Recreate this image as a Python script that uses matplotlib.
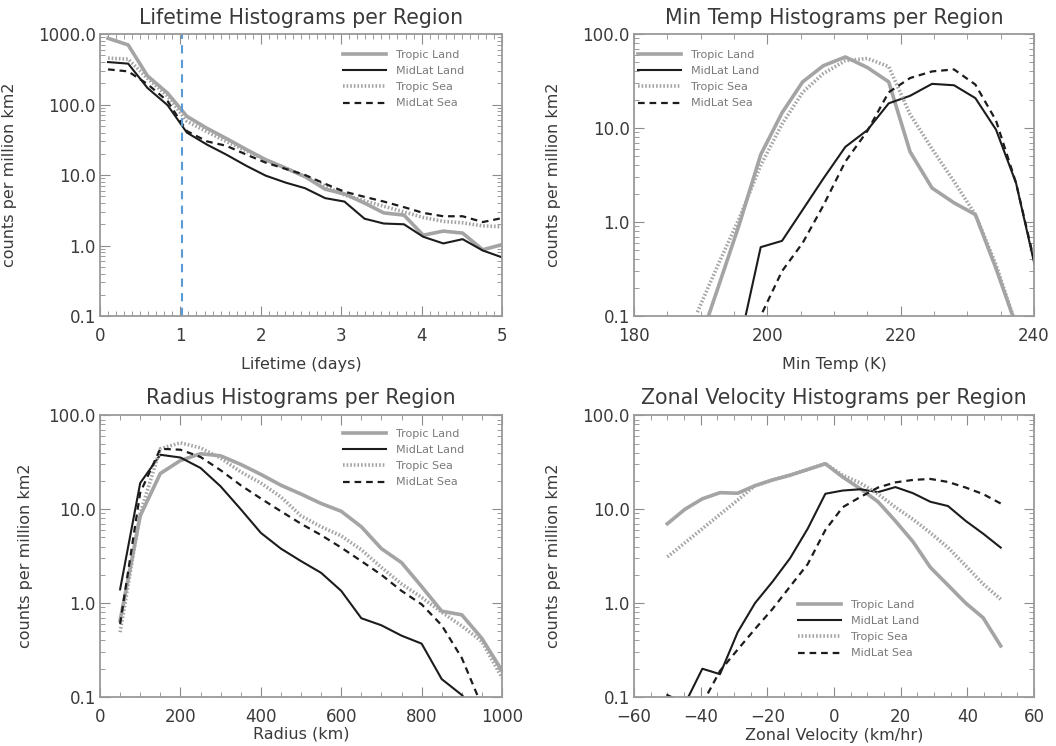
import numpy as np
import matplotlib
matplotlib.use("Agg")
import matplotlib.pyplot as plt
from matplotlib.ticker import MultipleLocator, LogLocator, FixedLocator, NullFormatter

# ---- data ----
NAMES = ["Tropic Land", "MidLat Land", "Tropic Sea", "MidLat Sea"]

# lifetime (days)
life_x = [0.1, 0.35, 0.59, 0.84, 1.08, 1.33, 1.57, 1.82, 2.06, 2.31, 2.55,
          2.8, 3.04, 3.29, 3.53, 3.78, 4.02, 4.27, 4.51, 4.76, 5.0]
life_tl = [870, 700, 255, 145, 68, 46, 33, 23, 16.5, 12.5, 9.5,
           6.3, 5.4, 4.0, 2.9, 2.7, 1.4, 1.6, 1.5, 0.87, 1.03]
life_ml = [400, 380, 172, 98, 40, 27, 19.5, 13.5, 9.8, 7.8, 6.5,
           4.7, 4.2, 2.4, 2.05, 2.0, 1.33, 1.07, 1.23, 0.85, 0.68]
life_ts = [455, 440, 235, 132, 58, 41, 30, 22, 16.5, 12.5, 9.5,
           7.0, 5.2, 4.3, 3.6, 3.0, 2.5, 2.2, 2.1, 1.9, 1.85]
life_ms = [315, 295, 195, 112, 42, 30, 26, 19.5, 15, 12.2, 10,
           7.5, 5.8, 4.9, 4.2, 3.5, 2.9, 2.6, 2.6, 2.15, 2.45]
LIFE_CUT = 1.02   # blue dashed marker

# min temperature (K)
temp_x = [189.5, 192.6, 195.8, 199.0, 202.2, 205.3, 208.4, 211.7, 215.0,
          218.2, 221.4, 224.7, 228.0, 231.2, 234.3, 237.3, 240.4]
temp_tl = [0.045, 0.2, 0.95, 5.2, 14.5, 31, 46, 57, 44,
           31, 5.6, 2.3, 1.6, 1.2, 0.32, 0.08, 0.02]
temp_ml = [np.nan, np.nan, 0.05, 0.54, 0.63, 1.35, 2.9, 6.3, 9.5,
           18.3, 22, 29.5, 28.5, 20.8, 9.6, 2.6, 0.28]
temp_ts = [0.11, 0.35, 1.1, 4.0, 11, 24, 38, 52, 55,
           45, 14, 6.0, 2.7, 1.2, 0.35, 0.08, 0.02]
temp_ms = [np.nan, np.nan, 0.03, 0.1, 0.3, 0.6, 1.5, 4.4, 9.3,
           24, 34, 40, 42, 29, 12, 2.6, 0.3]

# radius (km)
rad_x = [50, 100, 150, 200, 250, 300, 350, 400, 450, 500,
         550, 600, 650, 700, 750, 800, 850, 900, 950, 1000]
rad_tl = [0.65, 8.5, 24, 33, 39, 37, 30, 23.5, 18, 14.5,
          11.5, 9.5, 6.5, 3.8, 2.7, 1.5, 0.82, 0.75, 0.42, 0.19]
rad_ml = [1.4, 19, 38, 35.5, 27.5, 17.5, 10, 5.6, 3.8, 2.8,
          2.1, 1.35, 0.69, 0.58, 0.45, 0.37, 0.155, 0.105, 0.06, np.nan]
rad_ts = [0.49, 9, 44, 51, 45, 35, 25, 19, 13.5, 8.5,
          6.5, 5.2, 3.7, 2.4, 1.6, 1.15, 0.8, 0.57, 0.39, 0.16]
rad_ms = [0.6, 15, 44, 43, 36, 26, 18, 13, 9.5, 7.0,
          5.3, 3.9, 2.8, 2.0, 1.35, 0.97, 0.58, 0.26, 0.08, np.nan]

# zonal velocity (km/hr)
zon_x = [-50, -44.7, -39.5, -34.2, -28.9, -23.7, -18.4, -13.2, -7.9, -2.6,
         2.6, 7.9, 13.2, 18.4, 23.7, 28.9, 34.2, 39.5, 44.7, 50]
zon_tl = [7.0, 10, 12.9, 15, 14.8, 17.8, 20.5, 23, 26.5, 30.5,
          22, 16.5, 12, 7.5, 4.5, 2.4, 1.55, 1.0, 0.7, 0.35]
zon_ml = [0.105, 0.085, 0.2, 0.175, 0.49, 1.0, 1.7, 3.0, 6.2, 14.6,
          15.8, 16.3, 15.2, 17.2, 14.8, 12, 10.8, 7.5, 5.5, 3.9]
zon_ts = [3.1, 4.4, 6.2, 8.8, 12.5, 17.8, 20.5, 23, 26.5, 30.5,
          23, 19, 14.5, 10.5, 7.8, 5.6, 3.9, 2.5, 1.6, 1.1]
zon_ms = [np.nan, np.nan, 0.085, 0.19, 0.32, 0.53, 0.87, 1.5, 2.6, 6.0,
          10.5, 13.5, 17, 19.3, 20.5, 21, 19.5, 17, 14.5, 11.5]

GRAY = "#a4a4a4"
DARK = "#1c1c1c"
TXT = "#3a3a3a"
STYLES = [dict(color=GRAY, lw=2.6, ls="-"),
          dict(color=DARK, lw=1.5, ls="-"),
          dict(color=GRAY, lw=2.6, ls=(0, (0.45, 0.55))),
          dict(color=DARK, lw=1.6, ls=(0, (3, 2.2)))]

fig = plt.figure(figsize=(10.56, 7.46), dpi=100)
plt.rcParams["font.family"] = "DejaVu Sans"

def panel(rect, xs, ys, title, xlabel, xlim, ylim, minor, xticks,
          ylabs, ylab_x, xlab_y, title_y, leg_xy):
    ax = fig.add_axes(rect)
    for y, st in zip(ys, STYLES):
        ax.plot(xs, y, **st)
    ax.set_yscale("log")
    ax.set_xlim(*xlim)
    ax.xaxis.set_major_locator(FixedLocator(xticks))
    ax.xaxis.set_minor_locator(MultipleLocator(minor))
    ax.set_xticklabels([f"{t:g}".replace("-", "\u2212") for t in xticks])
    ax.yaxis.set_minor_locator(LogLocator(base=10, subs=np.arange(2, 10), numticks=20))
    ax.yaxis.set_minor_formatter(NullFormatter())
    ax.set_yticks(ylabs)
    ax.set_yticklabels([f"{v:.1f}" for v in ylabs])
    ax.set_ylim(*ylim)
    ax.tick_params(which="both", direction="in", top=True, right=True,
                   color="#8c8c8c", labelcolor=TXT, labelsize=12)
    ax.tick_params(axis="x", which="major", length=7, pad=8)
    ax.tick_params(axis="x", which="minor", length=3.5)
    ax.tick_params(axis="y", which="major", length=7, pad=3)
    ax.tick_params(axis="y", which="minor", length=3.5)
    for s in ax.spines.values():
        s.set_color("#9a9a9a"); s.set_linewidth(1.3)
    ax.set_title(title, y=title_y, pad=0, va="center", fontsize=14.8, color=TXT)
    ax.set_xlabel(xlabel, fontsize=11.5, color=TXT)
    ax.set_ylabel("counts per million km2", fontsize=11.5, color=TXT)
    ax.yaxis.set_label_coords(ylab_x, 0.5)
    ax.xaxis.set_label_coords(0.5, xlab_y)
    ax.legend(NAMES, loc="upper left", bbox_to_anchor=leg_xy, frameon=False,
              fontsize=8, labelcolor="#7a7a7a", borderpad=0, borderaxespad=0,
              handlelength=3.9, handletextpad=0.9, labelspacing=0.55)
    return ax

W1, W2 = 0.3807, 0.3788
ax1 = panel([0.0947, 0.5764, W1, 0.378], life_x, [life_tl, life_ml, life_ts, life_ms],
            "Lifetime Histograms per Region", "Lifetime (days)", (0, 5), (0.1, 1000),
            0.1, [0, 1, 2, 3, 4, 5], [0.1, 1, 10, 100, 1000],
            -0.206, -0.145, 1.057, (0.604, 0.943))
ax1.axvline(LIFE_CUT, color="#5b9bd5", ls=(0, (4, 3)), lw=1.5)

panel([0.6004, 0.5764, W2, 0.378], temp_x, [temp_tl, temp_ml, temp_ts, temp_ms],
      "Min Temp Histograms per Region", "Min Temp (K)", (180, 240), (0.1, 100),
      5, [180, 200, 220, 240], [0.1, 1, 10, 100],
      -0.1825, -0.145, 1.057, (0.01, 0.943))

panel([0.0947, 0.0657, W1, 0.3776], rad_x, [rad_tl, rad_ml, rad_ts, rad_ms],
      "Radius Histograms per Region", "Radius (km)", (0, 1000), (0.1, 100),
      50, [0, 200, 400, 600, 800, 1000], [0.1, 1, 10, 100],
      -0.167, -0.104, 1.061, (0.604, 0.951))

panel([0.6004, 0.0657, W2, 0.3776], zon_x, [zon_tl, zon_ml, zon_ts, zon_ms],
      "Zonal Velocity Histograms per Region", "Zonal Velocity (km/hr)", (-60, 60), (0.1, 100),
      5, [-60, -40, -20, 0, 20, 40, 60], [0.1, 1, 10, 100],
      -0.1825, -0.11, 1.061, (0.41, 0.344))

fig.savefig("out.png", dpi=100)
